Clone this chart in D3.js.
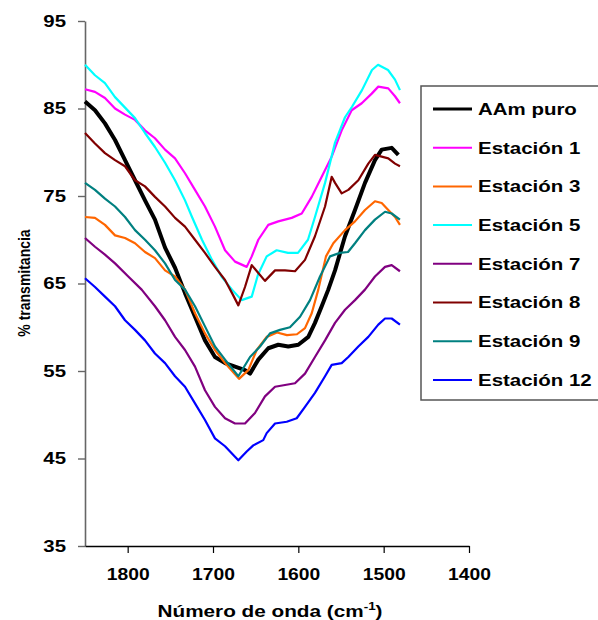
<!DOCTYPE html>
<html>
<head>
<meta charset="utf-8">
<script src="https://cdn.jsdelivr.net/npm/d3@7/dist/d3.min.js"></script>
<style>
body { margin: 0; background: #fff; }
svg { display: block; }
</style>
</head>
<body>
<script>
// legend order = drawing order
var seriesNames = ["AAm puro", "Estación 1", "Estación 3", "Estación 5", "Estación 7", "Estación 8", "Estación 9", "Estación 12"];
var seriesColors = ["#000000", "#ff00ff", "#ff6600", "#00ffff", "#800080", "#800000", "#008080", "#0000ff"];

var xTicks = [1800, 1700, 1600, 1500, 1400];
var yTicks = [35, 45, 55, 65, 75, 85, 95];

// [wavenumber cm-1, % transmitancia]
var aamPuro = [[1850,85.8],[1838.3,84.8],[1826.6,83.3],[1814.8,81.4],[1803.1,79.1],[1791.4,76.8],[1779.7,74.5],[1768,72.3],[1756.2,69.1],[1744.5,66.8],[1732.8,63.9],[1721.1,61.2],[1709.4,58.5],[1697.7,56.6],[1685.9,55.9],[1674.2,55.5],[1662.5,55.1],[1656.6,54.7],[1646.9,56.3],[1635.2,57.6],[1623.5,58.0],[1611.8,57.8],[1600,58.0],[1588.3,58.9],[1580.5,60.5],[1572.6,62.4],[1564.9,64.3],[1557,66.5],[1545.3,70.4],[1533.6,73.4],[1521.9,76.5],[1510.2,79.1],[1502.3,80.3],[1490.6,80.5],[1482.8,79.7]];
var estacion1 = [[1850,87.2],[1838.3,86.9],[1826.6,86.2],[1814.8,85.0],[1803.1,84.3],[1791.4,83.7],[1779.7,82.5],[1768,81.6],[1756.2,80.3],[1744.5,79.3],[1732.8,77.6],[1721.1,75.7],[1709.4,73.8],[1697.7,71.5],[1685.9,68.8],[1674.2,67.5],[1660.5,66.9],[1654.6,68.1],[1646.9,70.0],[1635.2,71.7],[1623.5,72.1],[1607.8,72.5],[1596,73.0],[1584.3,74.9],[1572.6,77.2],[1560.9,79.5],[1549.2,82.5],[1537.5,84.8],[1525.7,85.6],[1514,86.7],[1506.3,87.5],[1494.6,87.3],[1486.7,86.4],[1480.9,85.6]];
var estacion3 = [[1850,72.6],[1838.3,72.5],[1826.6,71.7],[1814.8,70.5],[1803.1,70.2],[1791.4,69.6],[1779.7,68.6],[1768,67.9],[1756.2,66.5],[1744.5,65.8],[1732.8,64.3],[1721.1,61.6],[1709.4,59.3],[1697.7,57.4],[1685.9,55.9],[1669.5,54.1],[1658.6,55.1],[1648.8,57.4],[1637.1,58.9],[1625,59.4],[1613.3,59.1],[1601.6,59.2],[1592.2,59.9],[1584.3,61.6],[1576.6,64.3],[1567.6,68.1],[1559,69.6],[1545.3,71.1],[1533.6,72.1],[1521.9,73.4],[1510.2,74.4],[1502.3,74.2],[1494.6,73.4],[1486.7,72.6],[1480.9,71.7]];
var estacion5 = [[1850,90.0],[1838.3,88.8],[1826.6,87.9],[1814.8,86.3],[1803.1,85.1],[1791.4,83.9],[1779.7,82.2],[1768,80.6],[1756.2,78.8],[1744.5,76.8],[1732.8,74.5],[1724.6,72.6],[1712.9,70.0],[1701.2,67.7],[1689.4,65.7],[1677.7,64.3],[1666.4,63.1],[1654.6,63.5],[1647.3,66.0],[1637.1,68.1],[1625.4,68.8],[1612.1,68.5],[1600.4,68.5],[1588.7,70.0],[1580.5,72.6],[1568.7,76.5],[1557,81.1],[1545.3,84.0],[1537.1,85.2],[1525.4,87.1],[1513.7,89.4],[1506.6,90.0],[1494.9,89.4],[1486.7,88.3],[1480.9,87.1]];
var estacion7 = [[1850,70.2],[1838.3,69.2],[1826.6,68.3],[1814.8,67.3],[1799.3,65.8],[1783.6,64.3],[1768,62.4],[1756.2,60.8],[1744.5,58.9],[1732.8,57.4],[1721.1,55.5],[1709.4,52.8],[1697.7,50.9],[1685.9,49.6],[1674.2,49.0],[1662.5,49.0],[1650.8,50.2],[1639.1,52.1],[1627.3,53.2],[1615.6,53.4],[1603.9,53.6],[1592.2,54.7],[1580.5,56.6],[1568.7,58.5],[1557,60.5],[1545.3,62.0],[1533.6,63.1],[1521.9,64.3],[1510.2,65.8],[1498.4,66.9],[1490.6,67.1],[1480.9,66.4]];
var estacion8 = [[1850,82.2],[1838.3,81.0],[1826.6,79.9],[1814.8,79.1],[1803.1,78.4],[1791.4,76.8],[1779.7,76.1],[1768,74.9],[1756.2,73.8],[1744.5,72.5],[1732.8,71.5],[1721.1,70.0],[1709.4,68.5],[1697.7,66.9],[1685.9,65.4],[1676.6,63.7],[1670.3,62.5],[1662.5,64.6],[1654.6,67.1],[1646.9,66.2],[1639.1,65.3],[1627.3,66.5],[1615.6,66.5],[1603.9,66.4],[1592.2,67.7],[1580.5,70.4],[1568.7,73.8],[1560.9,77.2],[1557,76.5],[1549.2,75.3],[1541.4,75.7],[1529.7,76.8],[1518,78.7],[1510.2,79.7],[1502.3,79.5],[1494.6,79.3],[1486.7,78.7],[1480.9,78.4]];
var estacion9 = [[1850,76.5],[1838.3,75.7],[1826.6,74.7],[1814.8,73.8],[1803.1,72.6],[1791.4,71.1],[1779.7,70.0],[1768,68.8],[1756.2,67.3],[1744.5,65.4],[1732.8,64.3],[1721.1,62.4],[1709.4,60.1],[1697.7,57.8],[1685.9,56.3],[1670.3,54.4],[1656.6,56.6],[1644.9,57.8],[1633.2,59.3],[1621.5,59.7],[1609.8,60.0],[1598,61.2],[1586.3,63.1],[1574.6,65.8],[1562.9,68.1],[1551.2,68.5],[1541.8,68.6],[1533.6,69.6],[1521.9,71.1],[1510.2,72.3],[1498.4,73.2],[1490.6,73.0],[1480.9,72.3]];
var estacion12 = [[1850,65.6],[1838.3,64.6],[1826.6,63.5],[1814.8,62.4],[1803.1,60.8],[1791.4,59.7],[1779.7,58.5],[1768,57.0],[1756.2,55.9],[1744.5,54.4],[1732.8,53.2],[1721.1,51.3],[1709.4,49.4],[1697.7,47.3],[1685.9,46.4],[1674.2,45.2],[1670.3,44.8],[1660.5,45.8],[1652.8,46.5],[1641.1,47.1],[1637.1,47.9],[1627.3,49.0],[1613.6,49.2],[1601.9,49.6],[1592.2,50.9],[1580.5,52.5],[1568.7,54.4],[1560.9,55.7],[1549.2,55.9],[1541.4,56.6],[1529.7,57.8],[1518,58.9],[1506.3,60.3],[1498.4,61.0],[1490.6,61.0],[1480.9,60.3]];

var seriesData = [aamPuro, estacion1, estacion3, estacion5, estacion7, estacion8, estacion9, estacion12];

var width = 598, height = 620;
var font = "'Liberation Sans', Arial, sans-serif";

var svg = d3.select('body').append('svg')
    .attr('width', width)
    .attr('height', height);

var x = d3.scaleLinear().domain([1850, 1400]).range([85, 469]);
var y = d3.scaleLinear().domain([35, 95]).range([546, 21]);

//y axis
var yAxis = svg.append('g')
    .attr('transform', 'translate(85,0)')
    .call(d3.axisLeft(y).tickValues(yTicks).tickSize(7).tickSizeOuter(0).tickFormat(d3.format('d')));
yAxis.select('.domain').attr('stroke', '#666').attr('stroke-width', 1.6);
yAxis.selectAll('.tick line').attr('stroke', '#666').attr('stroke-width', 1.4);
yAxis.selectAll('.tick text')
    .attr('x', null)
    .attr('transform', 'translate(-19,0) scale(1.2,1)')
    .attr('font-family', font).attr('font-size', 17).attr('font-weight', 'bold')
    .attr('fill', '#000');

//x axis
var xAxis = svg.append('g')
    .attr('transform', 'translate(0,546)')
    .call(d3.axisBottom(x).tickValues(xTicks).tickSize(7).tickSizeOuter(0).tickFormat(d3.format('d')));
xAxis.select('.domain').attr('stroke', '#000').attr('stroke-width', 1.4);
xAxis.selectAll('.tick line').attr('stroke', '#000').attr('stroke-width', 1.2);
xAxis.selectAll('.tick text')
    .attr('y', null)
    .attr('transform', 'translate(0,22) scale(1.17,1)')
    .attr('font-family', font).attr('font-size', 16.5).attr('font-weight', 'bold')
    .attr('fill', '#000');

//spectra
var line = d3.line()
    .x(function(d) { return x(d[0]); })
    .y(function(d) { return y(d[1]); });

svg.append('g').selectAll('path')
    .data(seriesData)
    .enter()
    .append('path')
    .attr('d', line)
    .attr('fill', 'none')
    .attr('stroke', function(d, i) { return seriesColors[i]; })
    .attr('stroke-width', function(d, i) { return i === 0 ? 4 : 2.2; })
    .attr('stroke-linejoin', 'round');

//axis titles
svg.append('text')
    .attr('transform', 'translate(24,283) scale(1.2,1) rotate(-90)')
    .attr('text-anchor', 'middle')
    .attr('dy', '0.35em')
    .attr('font-family', font).attr('font-size', 14).attr('font-weight', 'bold')
    .text('% transmitancia');

var xTitle = svg.append('text')
    .attr('transform', 'translate(270,617) scale(1.22,1)')
    .attr('text-anchor', 'middle')
    .attr('font-family', font).attr('font-size', 17).attr('font-weight', 'bold');
xTitle.append('tspan').text('Número de onda (cm');
xTitle.append('tspan').attr('font-size', 11).attr('dy', -7).text('-1');
xTitle.append('tspan').attr('dy', 7).text(')');

//legend
var legend = svg.append('g');
legend.append('rect')
    .attr('x', 421).attr('y', 86)
    .attr('width', 200).attr('height', 314)
    .attr('fill', '#fff')
    .attr('stroke', '#555').attr('stroke-width', 1.5);

var rows = legend.selectAll('g.row')
    .data(seriesNames)
    .enter()
    .append('g')
    .attr('class', 'row')
    .attr('transform', function(d, i) { return 'translate(0,' + (109 + i * 38.7) + ')'; });

rows.append('line')
    .attr('x1', 433).attr('x2', 472)
    .attr('stroke', function(d, i) { return seriesColors[i]; })
    .attr('stroke-width', function(d, i) { return i === 0 ? 3.2 : 2; });

rows.append('text')
    .attr('transform', 'translate(478,0) scale(1.24,1)')
    .attr('dy', '0.36em')
    .attr('font-family', font).attr('font-size', 16.5).attr('font-weight', 'bold')
    .text(function(d) { return d; });
</script>
</body>
</html>
